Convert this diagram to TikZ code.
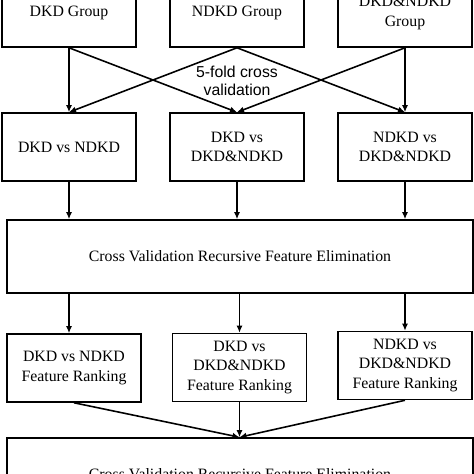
\documentclass[tikz,border=0pt]{standalone}
\usepackage{fontspec}
\setmainfont{Liberation Serif}
\newfontfamily\cvsans{Liberation Sans}
\usepackage{tikz}
\usetikzlibrary{arrows.meta, positioning}

\tikzset{
  box/.style={draw, line width=0.9pt, minimum width=2.68cm, minimum height=1.36cm,
    align=center, inner sep=1pt, font=\fontsize{9}{11}\selectfont},
  widebox/.style={box, minimum width=9.32cm, minimum height=1.46cm},
  flow/.style={-{Latex[length=4pt,width=3.5pt]}, line width=0.9pt}
}

\begin{document}
\begin{tikzpicture}[x=0.02cm, y=-0.02cm]
\useasboundingbox (0,0) rectangle (474,474);
% groups
\node[box] (g1) at (69,13) {DKD Group};
\node[box] (g2) at (237,13) {NDKD Group};
\node[box] (g3) at (405,13) {DKD\&NDKD\\Group};
\node[font=\cvsans\fontsize{9}{10.3}\selectfont, align=center] (cv) at (237,81) {5-fold cross\\validation};
% comparisons
\node[box] (c1) at (69,147) {DKD vs NDKD};
\node[box] (c2) at (237,147) {DKD vs\\DKD\&NDKD};
\node[box] (c3) at (405,147) {NDKD vs\\DKD\&NDKD};
\node[widebox] (rfe1) at (240,256.5) {Cross Validation Recursive Feature Elimination};
% rankings
\node[box] (r1) at (74,368) {DKD vs NDKD\\Feature Ranking};
\node[box] (r2) at (239.5,367.5) {DKD vs\\DKD\&NDKD\\Feature Ranking};
\node[box] (r3) at (405,365.5) {NDKD vs\\DKD\&NDKD\\Feature Ranking};
\node[widebox] (rfe2) at (240,474.5) {Cross Validation Recursive Feature Elimination};

\draw[flow] (g1.south) -- (c1.north);
\draw[flow] (g1.south) -- (c2.north);
\draw[flow] (g2.south) -- (c1.north);
\draw[flow] (g2.south) -- (c3.north);
\draw[flow] (g3.south) -- (c2.north);
\draw[flow] (g3.south) -- (c3.north);
\foreach \c in {c1,c2,c3}
  \draw[flow] (\c.south) -- (\c.south |- rfe1.north);
\draw[flow] (c1.south |- rfe1.south) -- (c1.south |- r1.north);
\draw[flow] (r2.north |- rfe1.south) -- (r2.north);
\draw[flow] (r3.north |- rfe1.south) -- (r3.north);
\foreach \r in {r1,r2,r3}
  \draw[flow] (\r.south) -- (r2.south |- rfe2.north);
\end{tikzpicture}
\end{document}
